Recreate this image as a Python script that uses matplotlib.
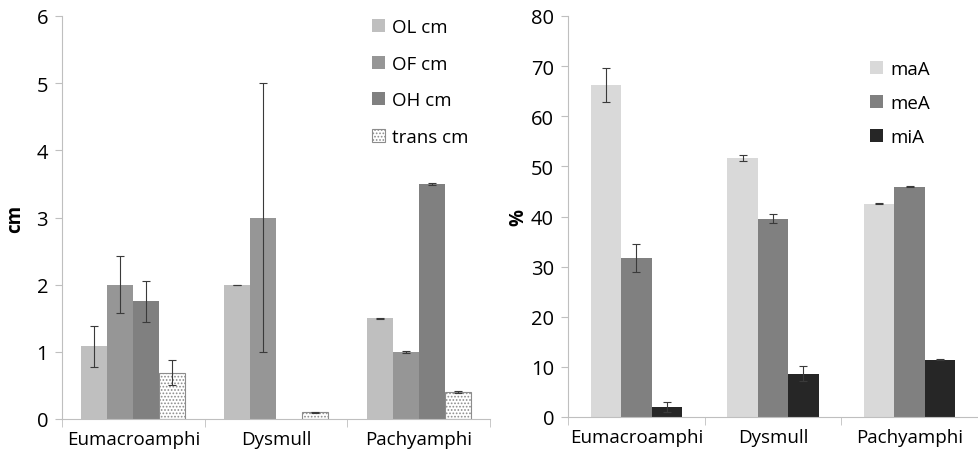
import matplotlib.pyplot as plt
import numpy as np

plt.rcParams['font.family'] = ['Open Sans', 'DejaVu Sans']
plt.rcParams['hatch.linewidth'] = 0.8

cats = ['Eumacroamphi', 'Dysmull', 'Pachyamphi']

# left panel (cm)
cm_names = ['OL cm', 'OF cm', 'OH cm', 'trans cm']
cm_vals = [[1.08, 2.0, 1.5],
           [2.0, 3.0, 1.0],
           [1.75, np.nan, 3.5],
           [0.69, 0.1, 0.4]]
cm_err = [[0.30, 0.0, 0.01],
          [0.42, 2.0, 0.01],
          [0.31, np.nan, 0.01],
          [0.19, 0.01, 0.01]]
cm_cols = ['#bfbfbf', '#969696', '#808080', 'white']

# right panel (%)
pc_names = ['maA', 'meA', 'miA']
pc_vals = [[66.2, 51.6, 42.5],
           [31.7, 39.6, 45.9],
           [2.0, 8.6, 11.4]]
pc_err = [[3.4, 0.6, 0.1],
          [2.8, 0.9, 0.1],
          [1.0, 1.5, 0.1]]
pc_cols = ['#d9d9d9', '#808080', '#262626']

fig = plt.figure(figsize=(9.79, 4.6), dpi=100)
ax1 = fig.add_axes([62/979, 1-420/460, 428/979, 403/460])
ax2 = fig.add_axes([568/979, 1-418/460, 410/979, 401/460])

def draw(ax, names, vals, errs, cols, hatch_last=False):
    n = len(names)
    w = 1.0/(n+1.5)
    x = np.arange(len(cats))
    for i in range(n):
        off = (i - (n-1)/2.0)*w
        if hatch_last and i == n-1:
            ax.bar(x+off, vals[i], w, color='white', edgecolor='#8c8c8c',
                   linewidth=0.8, hatch='.....', label=names[i], zorder=2)
        else:
            ax.bar(x+off, vals[i], w, color=cols[i], label=names[i], zorder=2)
        ax.errorbar(x+off, vals[i], yerr=errs[i], fmt='none', ecolor='#3a3a3a',
                    elinewidth=0.8, capsize=3, capthick=0.8, zorder=3)
    ax.set_xlim(-0.5, 2.5)
    ax.set_xticks(x)
    ax.set_xticklabels(cats, fontsize=13.5)
    ax.set_xticks([-0.5, 0.5, 1.5, 2.5], minor=True)
    ax.tick_params(axis='x', which='major', length=0, pad=8)
    ax.tick_params(axis='x', which='minor', length=6, color='#bfbfbf')
    ax.tick_params(axis='y', length=5, color='#bfbfbf', labelsize=14.5, pad=5)
    for s in ['top', 'right']:
        ax.spines[s].set_visible(False)
    for s in ['left', 'bottom']:
        ax.spines[s].set_color('#bfbfbf')

draw(ax1, cm_names, cm_vals, cm_err, cm_cols, hatch_last=True)
ax1.set_ylim(0, 6)
ax1.set_yticks(range(0, 7))
ax1.set_ylabel('cm', fontsize=13.5, fontweight='bold', labelpad=8)
ax1.legend(loc='upper left', bbox_to_anchor=(355/979, 1-2/460), bbox_transform=fig.transFigure,
           frameon=False, fontsize=13.5, handlelength=0.7, handleheight=0.7,
           handletextpad=0.4, labelspacing=1.0)

draw(ax2, pc_names, pc_vals, pc_err, pc_cols)
ax2.set_ylim(0, 80)
ax2.set_yticks(range(0, 81, 10))
ax2.set_ylabel('%', fontsize=13.5, fontweight='bold', labelpad=2)
ax2.legend(loc='upper left', bbox_to_anchor=(853/979, 1-44/460), bbox_transform=fig.transFigure,
           frameon=False, fontsize=13.5, handlelength=0.7, handleheight=0.7,
           handletextpad=0.4, labelspacing=0.85)

fig.savefig('out.png', dpi=100)
